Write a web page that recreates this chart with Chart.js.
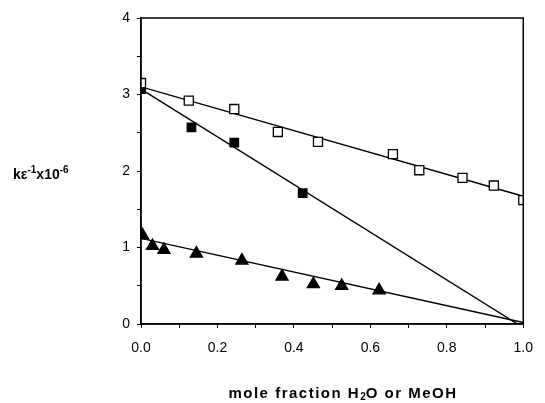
<!DOCTYPE html>
<html>
<head>
<meta charset="utf-8">
<script src="https://cdn.jsdelivr.net/npm/chart.js@4/dist/chart.umd.min.js"></script>
<style>
  html, body { margin: 0; padding: 0; background: #fff; }
  #wrap { position: relative; width: 545px; height: 403px; }
  .axis-title {
    position: absolute;
    font-family: "Liberation Sans", Arial, sans-serif;
    font-weight: bold;
    color: #000;
    white-space: nowrap;
  }
  #xTitle { left: 343px; top: 385px; font-size: 15px; line-height: 15px; letter-spacing: 1.5px; transform: translateX(-50%); }
  #xTitle sub { font-size: 10px; vertical-align: -2px; line-height: 0; letter-spacing: 0; }
  #yTitle { left: 13px; top: 166px; font-size: 14px; line-height: 16px; }
  #yTitle sup { font-size: 10px; vertical-align: 6px; line-height: 0; }
</style>
</head>
<body>
<div id="wrap">
  <canvas id="chart" width="545" height="403"></canvas>
  <div class="axis-title" id="yTitle">kε<sup>-1</sup>x10<sup>-6</sup></div>
  <div class="axis-title" id="xTitle">mole fraction H<sub>2</sub>O or MeOH</div>
</div>
<script>
// measured points
const openX = [0.0, 0.125, 0.244, 0.358, 0.463, 0.659, 0.728, 0.841, 0.923, 1.0];
const openY = [3.15, 2.92, 2.81, 2.51, 2.38, 2.22, 2.01, 1.91, 1.81, 1.62];

const filledX = [0.0, 0.132, 0.244, 0.423];
const filledY = [3.07, 2.57, 2.37, 1.71];

const triX = [0.004, 0.03, 0.06, 0.145, 0.264, 0.369, 0.451, 0.525, 0.623];
const triY = [1.16, 1.02, 0.97, 0.92, 0.83, 0.62, 0.52, 0.50, 0.44];

// fitted lines (end points)
const openFitX = [0.0, 1.0];
const openFitY = [3.10, 1.67];
const filledFitX = [0.0, 0.985];
const filledFitY = [3.07, 0.0];
const triFitX = [0.0, 1.0];
const triFitY = [1.12, 0.02];

const xTicks = ['0.0', '0.2', '0.4', '0.6', '0.8', '1.0'];
const yTicks = ['0', '1', '2', '3', '4'];

const toPts = (xs, ys) => xs.map((x, i) => ({ x: x, y: ys[i] }));

const pointSet = (xs, ys, style, radius, fill) => ({
  data: toPts(xs, ys),
  showLine: false,
  pointStyle: style,
  pointRadius: radius,
  pointBackgroundColor: fill,
  pointBorderColor: '#000',
  pointBorderWidth: 1.3
});

const lineSet = (xs, ys) => ({
  data: toPts(xs, ys),
  showLine: true,
  borderColor: '#000',
  borderWidth: 1.4,
  pointRadius: 0,
  fill: false
});

// frame around the plot area
const boxPlugin = {
  id: 'box',
  afterDraw(chart) {
    const a = chart.chartArea;
    const ctx = chart.ctx;
    ctx.save();
    ctx.strokeStyle = '#000';
    ctx.lineWidth = 1.5;
    ctx.strokeRect(a.left, a.top, a.right - a.left, a.bottom - a.top);
    ctx.restore();
  }
};

const tickFont = { family: '"Liberation Sans", Arial, sans-serif', size: 14 };

new Chart(document.getElementById('chart'), {
  type: 'scatter',
  data: {
    datasets: [
      pointSet(openX, openY, 'rect', 6.4, '#fff'),
      pointSet(filledX, filledY, 'rect', 6, '#000'),
      pointSet(triX, triY, 'triangle', 7, '#000'),
      lineSet(openFitX, openFitY),
      lineSet(filledFitX, filledFitY),
      lineSet(triFitX, triFitY)
    ]
  },
  options: {
    responsive: false,
    animation: false,
    layout: { padding: { left: 100, right: 12, top: 18, bottom: 0 } },
    plugins: {
      legend: { display: false },
      tooltip: { enabled: false }
    },
    scales: {
      x: {
        type: 'linear',
        min: 0,
        max: 1,
        afterFit: s => { s.height = 79; },
        ticks: {
          stepSize: 0.1,
          color: '#000',
          font: tickFont,
          padding: 12,
          maxRotation: 0,
          autoSkip: false,
          callback: (v, i) => (i % 2 === 0 ? xTicks[i / 2] : '')
        },
        grid: { drawOnChartArea: false, drawTicks: true, tickLength: 4, color: '#000' },
        border: { display: true, color: '#000', width: 1.5 }
      },
      y: {
        type: 'linear',
        min: 0,
        max: 4,
        afterFit: s => { s.width = 41; },
        ticks: {
          stepSize: 0.5,
          color: '#000',
          font: tickFont,
          padding: 7,
          autoSkip: false,
          callback: (v, i) => (i % 2 === 0 ? yTicks[i / 2] : '')
        },
        grid: { drawOnChartArea: false, drawTicks: true, tickLength: 4, color: '#000' },
        border: { display: true, color: '#000', width: 1.5 }
      }
    }
  },
  plugins: [boxPlugin]
});
</script>
</body>
</html>
